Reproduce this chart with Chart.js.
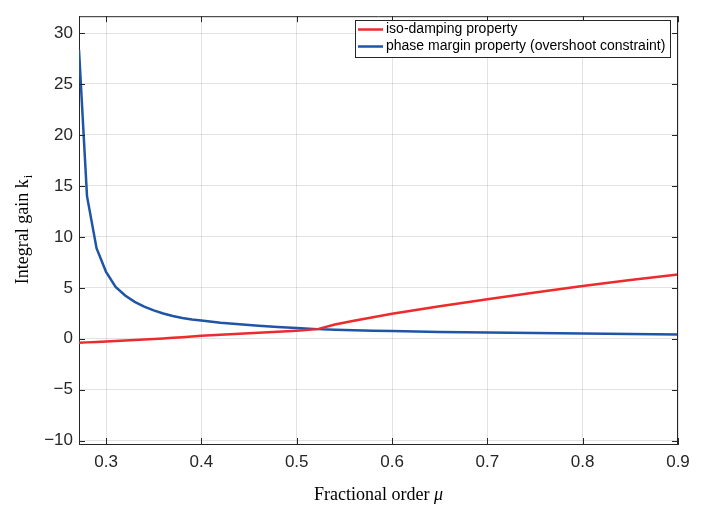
<!DOCTYPE html>
<html>
<head>
<meta charset="utf-8">
<script src="https://cdn.jsdelivr.net/npm/chart.js@4.4.1/dist/chart.umd.min.js"></script>
<style>
  body { margin: 0; background: #fff; }
  canvas { display: block; }
</style>
</head>
<body>
<canvas id="gainChart" width="702" height="507"></canvas>
<script>
// fractional order mu (x) and integral gain k_i for both curves
var mu = [0.2716, 0.28, 0.29, 0.30, 0.31, 0.32, 0.33, 0.34, 0.35, 0.36, 0.37, 0.38, 0.39, 0.40,
  0.42, 0.44, 0.46, 0.48, 0.50, 0.522, 0.54, 0.56, 0.58, 0.60, 0.65, 0.70, 0.75, 0.80, 0.85, 0.90];
var isoDamping = [-0.39, -0.35, -0.31, -0.27, -0.22, -0.17, -0.12, -0.07, -0.02, 0.04, 0.10, 0.16, 0.23, 0.30,
  0.39, 0.49, 0.59, 0.69, 0.80, 0.95, 1.40, 1.78, 2.12, 2.45, 3.20, 3.89, 4.55, 5.19, 5.76, 6.32];
var phaseMargin = [28.35, 14.0, 8.89, 6.56, 5.10, 4.25, 3.62, 3.15, 2.79, 2.49, 2.24, 2.04, 1.90, 1.79,
  1.58, 1.42, 1.29, 1.17, 1.07, 0.95, 0.89, 0.85, 0.80, 0.76, 0.68, 0.62, 0.57, 0.53, 0.48, 0.43];
var seriesLabels = ['iso-damping property', 'phase margin property (overshoot constraint)'];

var xTicks = [0.3, 0.4, 0.5, 0.6, 0.7, 0.8, 0.9];
var yTicks = [-10, -5, 0, 5, 10, 15, 20, 25, 30];

var axisColor = '#262626';
var red = '#ee2a2d';
var blue = '#1f55a6';

function pts(ys) {
  return mu.map(function (m, i) { return { x: m, y: ys[i] }; });
}

// MATLAB style box, inward ticks, legend and axis titles
var matlabAxes = {
  id: 'matlabAxes',
  afterDraw: function (chart) {
    var ctx = chart.ctx;
    var a = chart.chartArea;
    var xs = chart.scales.x, ys = chart.scales.y;
    ctx.save();
    ctx.strokeStyle = axisColor;
    ctx.lineWidth = 1;
    ctx.beginPath();
    ctx.moveTo(a.left, a.top + 0.5); ctx.lineTo(a.right, a.top + 0.5);
    ctx.moveTo(a.right - 0.5, a.top); ctx.lineTo(a.right - 0.5, a.bottom);
    xTicks.forEach(function (v) {
      var px = Math.round(xs.getPixelForValue(v)) + 0.5;
      ctx.moveTo(px, a.bottom); ctx.lineTo(px, a.bottom - 6);
      ctx.moveTo(px, a.top); ctx.lineTo(px, a.top + 6);
    });
    yTicks.forEach(function (v) {
      var py = Math.round(ys.getPixelForValue(v)) + 0.5;
      ctx.moveTo(a.left, py); ctx.lineTo(a.left + 6, py);
      ctx.moveTo(a.right, py); ctx.lineTo(a.right - 6, py);
    });
    ctx.stroke();

    // legend
    var lx = 355.5, ly = 20.5, lw = 315, lh = 37;
    ctx.fillStyle = '#fff';
    ctx.fillRect(lx, ly, lw, lh);
    ctx.strokeRect(lx, ly, lw, lh);
    var rows = [{ c: red, y: 29.5 }, { c: blue, y: 46.5 }];
    ctx.font = '14px "Liberation Sans", Arial, sans-serif';
    ctx.textBaseline = 'middle';
    rows.forEach(function (r, i) {
      ctx.strokeStyle = r.c;
      ctx.lineWidth = 2.5;
      ctx.beginPath();
      ctx.moveTo(358, r.y); ctx.lineTo(383, r.y);
      ctx.stroke();
      ctx.fillStyle = '#000';
      ctx.fillText(seriesLabels[i], 386, r.y);
    });

    // x title: Fractional order mu
    ctx.fillStyle = '#000';
    ctx.textBaseline = 'alphabetic';
    var f1 = '18px "Liberation Serif", "Times New Roman", serif';
    var f2 = 'italic 18px "Liberation Serif", "Times New Roman", serif';
    ctx.font = f1;
    var t1 = 'Fractional order ';
    var w1 = ctx.measureText(t1).width;
    ctx.font = f2;
    var w2 = ctx.measureText('\u03bc').width;
    var sx = (a.left + a.right) / 2 - (w1 + w2) / 2;
    ctx.font = f1;
    ctx.fillText(t1, sx, 500);
    ctx.font = f2;
    ctx.fillText('\u03bc', sx + w1, 500);

    // y title: Integral gain k_i
    ctx.translate(28, (a.top + a.bottom) / 2);
    ctx.rotate(-Math.PI / 2);
    ctx.font = f1;
    var t3 = 'Integral gain k';
    var w3 = ctx.measureText(t3).width;
    ctx.font = '12px "Liberation Serif", "Times New Roman", serif';
    var w4 = ctx.measureText('i').width;
    var sy = -(w3 + w4) / 2;
    ctx.font = f1;
    ctx.fillText(t3, sy, 0);
    ctx.font = '12px "Liberation Serif", "Times New Roman", serif';
    ctx.fillText('i', sy + w3 + 1, 4);
    ctx.restore();
  }
};

function fmt(v) {
  return v < 0 ? '\u2212' + Math.abs(v) : String(v);
}

var ctx = document.getElementById('gainChart').getContext('2d');
var chart = new Chart(ctx, {
  type: 'line',
  data: {
    datasets: [{
      label: seriesLabels[0],
      data: pts(isoDamping),
      borderColor: red,
      borderWidth: 2.5,
      pointRadius: 0,
      tension: 0
    }, {
      label: seriesLabels[1],
      data: pts(phaseMargin),
      borderColor: blue,
      borderWidth: 2.5,
      pointRadius: 0,
      tension: 0
    }]
  },
  options: {
    responsive: false,
    animation: false,
    layout: { padding: { top: 12, right: 24, left: 0, bottom: 0 } },
    plugins: {
      legend: { display: false },
      tooltip: { enabled: false }
    },
    scales: {
      x: {
        type: 'linear',
        min: 0.2716,
        max: 0.9,
        afterBuildTicks: function (s) { s.ticks = xTicks.map(function (v) { return { value: v }; }); },
        afterFit: function (s) { s.height = 63; },
        grid: { color: 'rgba(38,38,38,0.13)', drawTicks: false },
        border: { color: axisColor, width: 1 },
        ticks: {
          padding: 8,
          color: axisColor,
          maxRotation: 0,
          font: { family: '"Liberation Sans", Arial, sans-serif', size: 17 },
          callback: function (v) { return v.toFixed(1); }
        }
      },
      y: {
        min: -10.32,
        max: 31.65,
        afterBuildTicks: function (s) { s.ticks = yTicks.map(function (v) { return { value: v }; }); },
        afterFit: function (s) { s.width = 79; },
        grid: { color: 'rgba(38,38,38,0.13)', drawTicks: false },
        border: { color: axisColor, width: 1 },
        ticks: {
          padding: 6,
          color: axisColor,
          font: { family: '"Liberation Sans", Arial, sans-serif', size: 17 },
          callback: function (v) { return fmt(v); }
        }
      }
    }
  },
  plugins: [matlabAxes]
});
</script>
</body>
</html>
